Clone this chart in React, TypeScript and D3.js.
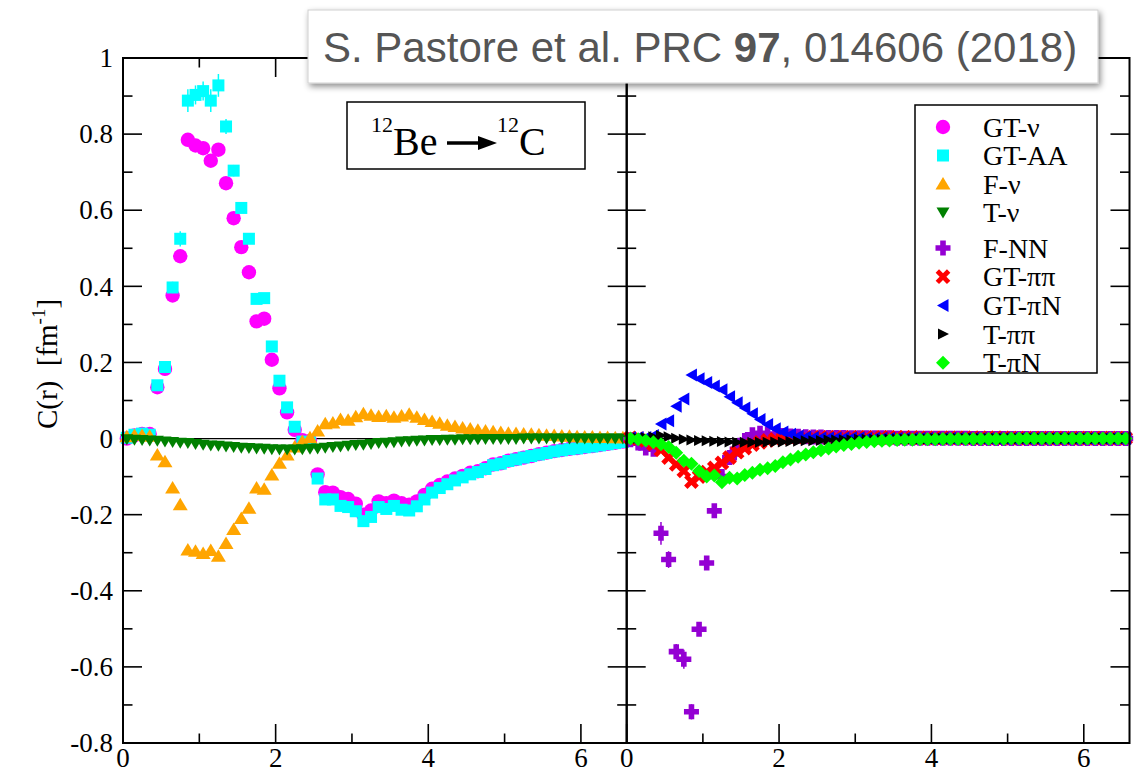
import React from "react";
import * as d3 from "d3";

// radial grid (fm), bin centres
const radius = [
  0.05, 0.15, 0.25, 0.35, 0.45, 0.55, 0.65, 0.75, 0.85, 0.95,
  1.05, 1.15, 1.25, 1.35, 1.45, 1.55, 1.65, 1.75, 1.85, 1.95,
  2.05, 2.15, 2.25, 2.35, 2.45, 2.55, 2.65, 2.75, 2.85, 2.95,
  3.05, 3.15, 3.25, 3.35, 3.45, 3.55, 3.65, 3.75, 3.85, 3.95,
  4.05, 4.15, 4.25, 4.35, 4.45, 4.55, 4.65, 4.75, 4.85, 4.95,
  5.05, 5.15, 5.25, 5.35, 5.45, 5.55, 5.65, 5.75, 5.85, 5.95,
  6.05, 6.15, 6.25, 6.35, 6.45, 6.55,
];

// left panel: neutrino-potential and axial densities
const gtNu = [
  0.000, 0.008, 0.012, 0.012, 0.135, 0.183, 0.376, 0.479, 0.785, 0.770,
  0.763, 0.730, 0.759, 0.671, 0.579, 0.503, 0.437, 0.308, 0.315, 0.207,
  0.132, 0.069, 0.023, -0.004, -0.006, -0.094, -0.141, -0.142, -0.154, -0.159,
  -0.171, -0.200, -0.189, -0.165, -0.170, -0.163, -0.170, -0.174, -0.165, -0.148,
  -0.132, -0.122, -0.113, -0.105, -0.098, -0.090, -0.086, -0.078, -0.068, -0.065,
  -0.058, -0.054, -0.050, -0.046, -0.041, -0.037, -0.033, -0.030, -0.027, -0.025,
  -0.022, -0.020, -0.017, -0.014, -0.011, -0.008,
];
const gtNuErr = [
  0, 0, 0, 0, 0.005, 0.008, 0.01, 0.012, 0.015, 0.01,
  0.01, 0.01, 0.015, 0.01, 0.008, 0.006, 0.006, 0.005, 0.005, 0.004,
  0.003, 0.003, 0, 0, 0, 0, 0, 0, 0, 0,
  0, 0, 0, 0, 0, 0, 0, 0, 0, 0,
  0, 0, 0, 0, 0, 0, 0, 0, 0, 0,
  0, 0, 0, 0, 0, 0, 0, 0, 0, 0,
  0, 0, 0, 0, 0, 0,
];
const gtAA = [
  0.002, 0.010, 0.013, 0.010, 0.140, 0.188, 0.397, 0.525, 0.888, 0.903,
  0.913, 0.888, 0.928, 0.820, 0.704, 0.606, 0.525, 0.367, 0.369, 0.242,
  0.152, 0.082, 0.031, -0.008, -0.010, -0.105, -0.160, -0.160, -0.177, -0.180,
  -0.191, -0.217, -0.206, -0.180, -0.185, -0.177, -0.187, -0.189, -0.178, -0.160,
  -0.142, -0.130, -0.120, -0.110, -0.102, -0.094, -0.088, -0.080, -0.070, -0.066,
  -0.059, -0.055, -0.050, -0.046, -0.042, -0.038, -0.034, -0.031, -0.028, -0.026,
  -0.023, -0.021, -0.018, -0.015, -0.012, -0.009,
];
const gtAAErr = [
  0, 0, 0, 0, 0.008, 0.01, 0.015, 0.02, 0.03, 0.025,
  0.025, 0.03, 0.03, 0.02, 0.015, 0.012, 0.012, 0.01, 0.01, 0.008,
  0.006, 0.005, 0.004, 0, 0, 0, 0, 0, 0, 0,
  0, 0, 0, 0, 0, 0, 0, 0, 0, 0,
  0, 0, 0, 0, 0, 0, 0, 0, 0, 0,
  0, 0, 0, 0, 0, 0, 0, 0, 0, 0,
  0, 0, 0, 0, 0, 0,
];
const fNu = [
  0.005, 0.008, 0.008, 0.006, -0.043, -0.061, -0.130, -0.174, -0.293, -0.296,
  -0.302, -0.294, -0.309, -0.276, -0.239, -0.210, -0.183, -0.130, -0.133, -0.096,
  -0.065, -0.043, -0.022, -0.008, 0.002, 0.020, 0.039, 0.041, 0.050, 0.048,
  0.057, 0.065, 0.061, 0.058, 0.060, 0.056, 0.059, 0.064, 0.056, 0.050,
  0.045, 0.040, 0.035, 0.032, 0.028, 0.025, 0.022, 0.020, 0.018, 0.016,
  0.014, 0.013, 0.012, 0.011, 0.010, 0.009, 0.008, 0.007, 0.006, 0.005,
  0.004, 0.004, 0.003, 0.003, 0.002, 0.002,
];
const tNu = [
  -0.002, -0.003, -0.004, -0.005, -0.006, -0.008, -0.009, -0.011, -0.012, -0.014,
  -0.016, -0.018, -0.019, -0.021, -0.022, -0.024, -0.025, -0.026, -0.027, -0.028,
  -0.029, -0.029, -0.029, -0.028, -0.027, -0.026, -0.024, -0.022, -0.021, -0.019,
  -0.017, -0.016, -0.014, -0.012, -0.011, -0.010, -0.008, -0.007, -0.006, -0.005,
  -0.004, -0.004, -0.003, -0.003, -0.002, -0.002, -0.002, -0.001, -0.001, -0.001,
  -0.001, -0.001, 0, 0, 0, 0, 0, 0, 0, 0,
  0, 0, 0, 0, 0, 0,
];

// right panel: nucleon-nucleon and pion-exchange contributions
const fNN = [
  -0.003, -0.012, -0.025, -0.028, -0.249, -0.318, -0.560, -0.580, -0.718, -0.501,
  -0.327, -0.190, -0.100, -0.050, -0.028, -0.005, 0.010, 0.014, 0.012, 0.010,
  0.008, 0.007, 0.006, 0.005, 0.004, 0.004, 0.003, 0.003, 0.003, 0.002,
  0.002, 0.002, 0.002, 0.002, 0.002, 0.001, 0.001, 0.001, 0.001, 0.001,
  0.001, 0.001, 0.001, 0.001, 0.001, 0, 0, 0, 0, 0,
  0, 0, 0, 0, 0, 0, 0, 0, 0, 0,
  0, 0, 0, 0, 0, 0,
];
const fNNErr = [
  0, 0, 0, 0, 0.03, 0.022, 0.02, 0.025, 0.02, 0.012,
  0.01, 0.008, 0, 0, 0, 0, 0, 0, 0, 0,
  0, 0, 0, 0, 0, 0, 0, 0, 0, 0,
  0, 0, 0, 0, 0, 0, 0, 0, 0, 0,
  0, 0, 0, 0, 0, 0, 0, 0, 0, 0,
  0, 0, 0, 0, 0, 0, 0, 0, 0, 0,
  0, 0, 0, 0, 0, 0,
];
const gtPiPi = [
  0.002, 0.000, -0.005, -0.015, -0.030, -0.050, -0.068, -0.085, -0.113, -0.100,
  -0.088, -0.077, -0.064, -0.050, -0.036, -0.025, -0.016, -0.010, -0.005, -0.002,
  0.000, 0.001, 0.002, 0.002, 0.003, 0.003, 0.003, 0.003, 0.003, 0.003,
  0.003, 0.003, 0.003, 0.003, 0.003, 0.003, 0.003, 0.003, 0.002, 0.002,
  0.002, 0.002, 0.002, 0.002, 0.002, 0.002, 0.002, 0.002, 0.002, 0.002,
  0.001, 0.001, 0.001, 0.001, 0.001, 0.001, 0.001, 0.001, 0.001, 0.001,
  0.001, 0.001, 0.001, 0.001, 0.001, 0.001,
];
const gtPiN = [
  0.002, 0.003, 0.003, 0.008, 0.038, 0.047, 0.085, 0.104, 0.167, 0.157,
  0.147, 0.138, 0.128, 0.110, 0.094, 0.080, 0.065, 0.050, 0.037, 0.026,
  0.017, 0.011, 0.007, 0.004, 0.003, 0.002, 0.002, 0.002, 0.002, 0.002,
  0.002, 0.001, 0.001, 0.001, 0.001, 0.001, 0.001, 0.001, 0.001, 0.001,
  0.001, 0.001, 0.001, 0.001, 0.001, 0.001, 0, 0, 0, 0,
  0, 0, 0, 0, 0, 0, 0, 0, 0, 0,
  0, 0, 0, 0, 0, 0,
];
const tPiPi = [
  0.000, 0.001, 0.002, 0.005, 0.008, 0.005, 0.001, -0.002, -0.004, -0.005,
  -0.006, -0.007, -0.008, -0.009, -0.010, -0.010, -0.010, -0.010, -0.010, -0.009,
  -0.009, -0.008, -0.007, -0.006, -0.006, -0.005, -0.004, -0.004, -0.003, -0.003,
  -0.002, -0.002, -0.002, -0.002, -0.001, -0.001, -0.001, -0.001, -0.001, -0.001,
  0, 0, 0, 0, 0, 0, 0, 0, 0, 0,
  0, 0, 0, 0, 0, 0, 0, 0, 0, 0,
  0, 0, 0, 0, 0, 0,
];
const tPiN = [
  0.000, -0.002, -0.005, -0.010, -0.015, -0.022, -0.037, -0.058, -0.066, -0.085,
  -0.100, -0.097, -0.115, -0.103, -0.105, -0.096, -0.090, -0.082, -0.078, -0.072,
  -0.062, -0.055, -0.048, -0.042, -0.036, -0.031, -0.026, -0.021, -0.017, -0.014,
  -0.011, -0.009, -0.007, -0.006, -0.005, -0.004, -0.003, -0.003, -0.002, -0.002,
  -0.002, -0.001, -0.001, -0.001, -0.001, -0.001, -0.001, -0.001, -0.001, -0.001,
  0, 0, 0, 0, 0, 0, 0, 0, 0, 0,
  0, 0, 0, 0, 0, 0,
];

const xMajorTicks = [0, 2, 4, 6];
const xMinorTicks = [1, 3, 5];
const xTickLabels = ["0", "2", "4", "6"];
const yMajorTicks = [-0.8, -0.6, -0.4, -0.2, 0, 0.2, 0.4, 0.6, 0.8, 1];
const yMinorTicks = [-0.7, -0.5, -0.3, -0.1, 0.1, 0.3, 0.5, 0.7, 0.9];
const yTickLabels = ["-0.8", "-0.6", "-0.4", "-0.2", "0", "0.2", "0.4", "0.6", "0.8", "1"];

type Kind = "circle" | "square" | "triUp" | "triDown" | "plus" | "cross" | "triLeft" | "triRight" | "diamond";

interface Series {
  label: string;
  values: number[];
  errors?: number[];
  color: string;
  kind: Kind;
}

const leftSeries: Series[] = [
  { label: "GT-\u03bd", values: gtNu, errors: gtNuErr, color: "#ff00ff", kind: "circle" },
  { label: "GT-AA", values: gtAA, errors: gtAAErr, color: "#00ffff", kind: "square" },
  { label: "F-\u03bd", values: fNu, color: "#ffa500", kind: "triUp" },
  { label: "T-\u03bd", values: tNu, color: "#008000", kind: "triDown" },
];
const rightSeries: Series[] = [
  { label: "F-NN", values: fNN, errors: fNNErr, color: "#9400d3", kind: "plus" },
  { label: "GT-\u03c0\u03c0", values: gtPiPi, color: "#ff0000", kind: "cross" },
  { label: "GT-\u03c0N", values: gtPiN, color: "#0000ff", kind: "triLeft" },
  { label: "T-\u03c0\u03c0", values: tPiPi, color: "#000000", kind: "triRight" },
  { label: "T-\u03c0N", values: tPiN, color: "#00ff00", kind: "diamond" },
];

const W = 1145;
const H = 773;
const TOP = 58;
const BOTTOM = 743;
const LEFT = 123;
const MID = 626.7;
const RIGHT = 1129.5;
const SERIF = "'Liberation Serif', 'Times New Roman', Times, serif";

const y = d3.scaleLinear().domain([-0.8, 1]).range([BOTTOM, TOP]);
const xL = d3.scaleLinear().domain([0, 6.6]).range([LEFT, MID]);
const xR = d3.scaleLinear().domain([0, 6.6]).range([MID, RIGHT]);

const plusPath = (a: number, t: number) =>
  `M${-t},${-a}H${t}V${-t}H${a}V${t}H${t}V${a}H${-t}V${t}H${-a}V${-t}H${-t}Z`;

function Marker({ kind, color, cx, cy }: { kind: Kind; color: string; cx: number; cy: number }) {
  const tr = `translate(${cx},${cy})`;
  switch (kind) {
    case "circle":
      return <circle cx={cx} cy={cy} r={7.2} fill={color} />;
    case "square":
      return <rect x={cx - 6} y={cy - 6} width={12} height={12} fill={color} />;
    case "triUp":
      return <path transform={tr} d="M0,-7L7.5,5.5L-7.5,5.5Z" fill={color} />;
    case "triDown":
      return <path transform={tr} d="M0,6L6.5,-5L-6.5,-5Z" fill={color} />;
    case "plus":
      return <path transform={tr} d={plusPath(7.5, 2.8)} fill={color} />;
    case "cross":
      return <path transform={`${tr} rotate(45)`} d={plusPath(8, 2.4)} fill={color} />;
    case "triLeft":
      return <path transform={tr} d="M-6,0L5.5,-6.5L5.5,6.5Z" fill={color} />;
    case "triRight":
      return <path transform={tr} d="M6,0L-5,-5.5L-5,5.5Z" fill={color} />;
    case "diamond":
      return <path transform={tr} d="M0,-7L7,0L0,7L-7,0Z" fill={color} />;
  }
}

function SeriesMarks({ s, x }: { s: Series; x: d3.ScaleLinear<number, number> }) {
  return (
    <g>
      {s.errors &&
        s.values.map((v, i) =>
          s.errors![i] > 0 ? (
            <line
              key={"e" + i}
              x1={x(radius[i])}
              x2={x(radius[i])}
              y1={y(v - s.errors![i])}
              y2={y(v + s.errors![i])}
              stroke={s.color}
              strokeWidth={1.5}
            />
          ) : null
        )}
      {s.values.map((v, i) => (
        <Marker key={i} kind={s.kind} color={s.color} cx={x(radius[i])} cy={y(v)} />
      ))}
    </g>
  );
}

function PanelTicks({ x, left, right }: { x: d3.ScaleLinear<number, number>; left: number; right: number }) {
  const major = 19;
  const minor = 9.5;
  return (
    <g stroke="#000" strokeWidth={1.6}>
      {xMajorTicks.map((t) => (
        <g key={"xM" + t}>
          <line x1={x(t)} x2={x(t)} y1={BOTTOM} y2={BOTTOM - major} />
          <line x1={x(t)} x2={x(t)} y1={TOP} y2={TOP + major} />
        </g>
      ))}
      {xMinorTicks.map((t) => (
        <g key={"xm" + t}>
          <line x1={x(t)} x2={x(t)} y1={BOTTOM} y2={BOTTOM - minor} />
          <line x1={x(t)} x2={x(t)} y1={TOP} y2={TOP + minor} />
        </g>
      ))}
      {yMajorTicks.map((t) => (
        <g key={"yM" + t}>
          <line x1={left} x2={left + major} y1={y(t)} y2={y(t)} />
          <line x1={right} x2={right - major} y1={y(t)} y2={y(t)} />
        </g>
      ))}
      {yMinorTicks.map((t) => (
        <g key={"ym" + t}>
          <line x1={left} x2={left + minor} y1={y(t)} y2={y(t)} />
          <line x1={right} x2={right - minor} y1={y(t)} y2={y(t)} />
        </g>
      ))}
    </g>
  );
}

export default function App() {
  const legendRows = [127, 155.5, 184, 212.5, 248, 276.7, 305.4, 334, 362.8];
  const legendItems = [...leftSeries, ...rightSeries];

  return (
    <svg width={W} height={H} viewBox={`0 0 ${W} ${H}`} style={{ display: "block", position: "absolute", left: 0, top: 0 }}>
      <defs>
        <filter id="boxShadow" x="-5%" y="-30%" width="110%" height="170%">
          <feDropShadow dx={2} dy={3} stdDeviation={3} floodColor="#000" floodOpacity={0.45} />
        </filter>
      </defs>
      <rect x={0} y={0} width={W} height={H} fill="#fff" />

      {/* zero line */}
      <line x1={LEFT} x2={RIGHT} y1={y(0)} y2={y(0)} stroke="#000" strokeWidth={1.3} />

      <PanelTicks x={xL} left={LEFT} right={MID} />
      <PanelTicks x={xR} left={MID} right={RIGHT} />

      {/* left panel data */}
      {leftSeries.map((s) => (
        <SeriesMarks key={s.label} s={s} x={xL} />
      ))}
      {/* right panel data */}
      {rightSeries.map((s) => (
        <SeriesMarks key={s.label} s={s} x={xR} />
      ))}

      {/* frames */}
      <g fill="none" stroke="#000" strokeWidth={2}>
        <rect x={LEFT} y={TOP} width={MID - LEFT} height={BOTTOM - TOP} />
        <rect x={MID} y={TOP} width={RIGHT - MID} height={BOTTOM - TOP} />
      </g>

      {/* tick labels */}
      {yMajorTicks.map((t, i) => (
        <text key={"yl" + t} x={LEFT - 10} y={y(t)} dy="0.34em" textAnchor="end" style={{ fontFamily: SERIF, fontSize: 27 }} fill="#000">
          {yTickLabels[i]}
        </text>
      ))}
      {xMajorTicks.map((t, i) => (
        <text key={"xlL" + t} x={xL(t)} y={767} textAnchor="middle" style={{ fontFamily: SERIF, fontSize: 27 }} fill="#000">
          {xTickLabels[i]}
        </text>
      ))}
      {xMajorTicks.map((t, i) => (
        <text key={"xlR" + t} x={xR(t)} y={767} textAnchor="middle" style={{ fontFamily: SERIF, fontSize: 27 }} fill="#000">
          {xTickLabels[i]}
        </text>
      ))}

      {/* y-axis title */}
      <text
        transform="translate(57,364) rotate(-90)"
        style={{ fontFamily: SERIF, fontSize: 29, whiteSpace: "pre" }}
        textAnchor="middle"
        fill="#000"
      >
        {"C(r)  [fm"}
        <tspan style={{ fontSize: 19 }} dy={-12}>-1</tspan>
        <tspan dy={12}>]</tspan>
      </text>

      {/* reaction label */}
      <rect x={347} y={102} width={238} height={67} fill="#fff" stroke="#000" strokeWidth={1.5} />
      <g style={{ fontFamily: SERIF }} fill="#000">
        <text x={371} y={132} fontSize={22}>12</text>
        <text x={393} y={155} fontSize={40}>Be</text>
        <line x1={447} x2={482} y1={143} y2={143} stroke="#000" strokeWidth={3.5} />
        <path d="M497,143L478,136L478,150Z" fill="#000" />
        <text x={497} y={132} fontSize={22}>12</text>
        <text x={519} y={155} fontSize={40}>C</text>
      </g>

      {/* legend */}
      <rect x={915} y={105} width={182} height={268} fill="#fff" stroke="#000" strokeWidth={1.5} />
      {legendItems.map((s, i) => (
        <g key={"lg" + s.label}>
          <Marker kind={s.kind} color={s.color} cx={943} cy={legendRows[i]} />
          <text x={983} y={legendRows[i]} dy="0.34em" style={{ fontFamily: SERIF, fontSize: 28 }} fill="#000">
            {s.label}
          </text>
        </g>
      ))}

      {/* citation box */}
      <rect x={308} y={10} width={790} height={73} fill="#fff" stroke="#d0d0d0" strokeWidth={1} filter="url(#boxShadow)" />
      <text x={323} y={62} style={{ fontFamily: "'Liberation Sans', Arial, sans-serif", fontSize: 42 }} fill="#555">
        S. Pastore et al. PRC <tspan fontWeight="bold">97</tspan>, 014606 (2018)
      </text>
    </svg>
  );
}
